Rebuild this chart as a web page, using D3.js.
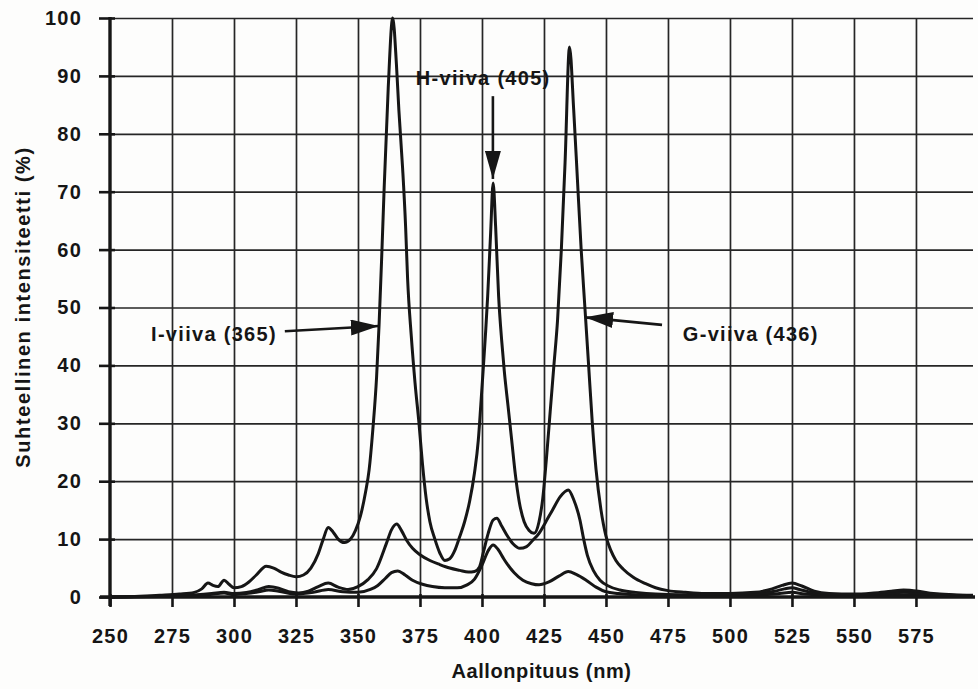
<!DOCTYPE html>
<html>
<head>
<meta charset="utf-8">
<script src="https://cdn.jsdelivr.net/npm/d3@7"></script>
<style>
  html, body { margin: 0; padding: 0; background: #fdfdfc; }
  svg { display: block; }
  text { font-family: "Liberation Sans", Arial, Helvetica, sans-serif; font-weight: bold; fill: #151515; }
</style>
</head>
<body>
<svg id="chart" width="978" height="689"></svg>
<script>
// Wavelength (nm) and relative intensity (%) tick values
const xTicks = [250, 275, 300, 325, 350, 375, 400, 425, 450, 475, 500, 525, 550, 575];
const yTicks = [0, 10, 20, 30, 40, 50, 60, 70, 80, 90, 100];

// Spectra: [wavelength nm, relative intensity %]
const seriesHigh = [
  [250,0],[260,0.1],[270,0.3],[278,0.5],[284,0.8],[287,1.4],[289.5,2.4],[291.5,2.0],[293.5,1.8],
  [296,2.9],[298,2.2],[300,1.6],[303,1.8],[306,2.6],[309,3.8],[313,5.3],[316,5.0],[319,4.3],
  [322,3.8],[325,3.5],[328,3.8],[331,5.0],[334,7.5],[336,10],[338,12.0],[340,11.2],[342,10.0],
  [344.5,9.4],[347,10.0],[349,11.5],[351,14],[353,18],[354.5,22],[356,29],[357.5,38],[358.5,47],
  [359.5,58],[360.5,70],[362.2,88],[364,100],[365.5,92],[366.5,84],[368,74],[369.2,64],[370,55],
  [371.5,45],[373,37],[374.6,30],[376,23],[377.5,17],[379,13],[381,10],[383,7.6],[385,6.3],
  [387,6.6],[389,8.0],[391,10.4],[393,13],[395,16.5],[397,21.5],[398.5,27],[399.5,33],[400.6,40],
  [401.5,46],[402.3,52],[403.5,63],[404.5,71.5],[405.5,64],[406.7,52],[408,44],[409,39],[410.5,33],
  [412,27],[413.5,21],[415,16.5],[417,13],[419,11.5],[421,11],[423,13],[424.5,17],[426,24],
  [427.5,32],[429,40],[430.5,48],[432,60],[433.5,75],[435.3,95],[437,84],[438.5,72],[440,60],
  [441.5,50],[443,40],[444.5,30],[446,22],[448,15],[450,10.5],[452,8],[454,6.3],[457,4.8],
  [461,3.4],[466,2.3],[470,1.6],[475,1.1],[482,0.8],[490,0.6],[500,0.6],[510,0.8],[517,1.4],
  [521,2.0],[525,2.4],[529,1.9],[534,1.0],[540,0.6],[550,0.5],[558,0.7],[565,1.0],[570,1.2],
  [576,1.0],[582,0.6],[590,0.4],[598,0.3]
];
const seriesMid = [
  [250,0],[265,0.1],[275,0.2],[285,0.4],[291,0.6],[296,0.8],[300,0.6],[305,0.8],[310,1.3],
  [314,1.8],[318,1.5],[322,0.9],[326,0.7],[330,1.0],[334,1.8],[338,2.4],[342,1.7],[346,1.3],
  [350,1.8],[354,3.0],[357.5,4.9],[361.5,9.3],[363.5,11.6],[365.6,12.6],[367.5,11.5],[369.6,9.8],
  [372,8.4],[375,7.3],[379,6.3],[383,5.6],[387,5.0],[391,4.6],[394.5,4.3],[397,4.4],[399,5.2],
  [400.5,7.6],[402.5,11],[404.5,13.3],[406,13.6],[408,12.2],[410,10.7],[412.5,9.2],[415.3,8.4],
  [418,8.7],[420.5,9.8],[423,11],[425.5,12.8],[428.4,15],[431.5,17.3],[434.8,18.5],[437,16.8],
  [439.5,13.3],[441,10],[442.5,7.2],[445,4.5],[447.6,2.9],[451,1.9],[455.6,1.2],[462,0.8],
  [470,0.5],[480,0.4],[500,0.4],[512,0.6],[518,1.0],[522,1.4],[525,1.6],[528,1.3],[533,0.8],
  [540,0.4],[555,0.4],[565,0.7],[570,0.8],[580,0.5],[590,0.3],[598,0.2]
];
const seriesLow = [
  [250,0],[270,0.1],[280,0.2],[290,0.4],[296,0.7],[300,0.4],[305,0.6],[310,0.9],[314,1.2],
  [318,1.0],[325,0.5],[332,0.8],[338,1.3],[344,0.9],[350,0.8],[355,1.3],[358,2.0],[361,3.2],
  [363.5,4.2],[366,4.5],[369,3.8],[372,2.9],[376,2.2],[380,1.8],[385,1.6],[390,1.6],[394,2.1],
  [397,3.1],[400,5.5],[402.5,8.0],[404.5,9.0],[406.5,8.2],[408.5,6.8],[410,5.8],[413,4.2],
  [416.5,2.9],[420,2.3],[423,2.1],[427,2.6],[431,3.6],[434.8,4.4],[438,3.9],[442,2.9],[446,1.7],
  [450,0.9],[455,0.6],[465,0.3],[480,0.2],[510,0.3],[520,0.6],[525,0.8],[530,0.5],[545,0.2],
  [570,0.4],[598,0.1]
];

const lineLabels = ["I-viiva (365)", "H-viiva (405)", "G-viiva (436)"];
const xTitle = "Aallonpituus (nm)";
const yTitle = "Suhteellinen intensiteetti (%)";

const svg = d3.select("#chart");
const plotLeft = 110, plotRight = 973, plotTop = 18, plotBottom = 597;
const x = d3.scaleLinear().domain([250, 598]).range([plotLeft, plotRight]);
const y = d3.scaleLinear().domain([0, 100]).range([plotBottom, plotTop]);
const ink = "#161616";

// Grid
svg.append("g")
  .attr("transform", `translate(0,${plotBottom})`)
  .call(d3.axisBottom(x).tickValues(xTicks.slice(1)).tickSize(-(plotBottom - plotTop)).tickFormat(""))
  .call(g => g.select(".domain").remove())
  .call(g => g.selectAll("line").attr("stroke", "#262626").attr("stroke-width", 1.7));
svg.append("g")
  .attr("transform", `translate(${plotLeft},0)`)
  .call(d3.axisLeft(y).tickValues(yTicks.slice(1)).tickSize(-(plotRight - plotLeft)).tickFormat(""))
  .call(g => g.select(".domain").remove())
  .call(g => g.selectAll("line").attr("stroke", "#262626").attr("stroke-width", 1.7));

// Spectral curves
const line = d3.line().x(d => x(d[0])).y(d => y(d[1])).curve(d3.curveMonotoneX);
[seriesLow, seriesMid, seriesHigh].forEach(s => {
  svg.append("path").datum(s)
    .attr("d", line)
    .attr("fill", "none")
    .attr("stroke", ink)
    .attr("stroke-width", 3)
    .attr("stroke-linejoin", "round");
});

// Axes
const yAxis = svg.append("g")
  .attr("transform", `translate(${plotLeft},0)`)
  .call(d3.axisLeft(y).tickValues(yTicks).tickSize(11).tickPadding(17).tickFormat(d3.format("d")));
const xAxis = svg.append("g")
  .attr("transform", `translate(0,${plotBottom})`)
  .call(d3.axisBottom(x).tickValues(xTicks).tickSize(10).tickPadding(22).tickFormat(d3.format("d")));
[yAxis, xAxis].forEach(g => {
  g.select(".domain").remove();
  g.selectAll("line").attr("stroke", ink).attr("stroke-width", 2.6);
  g.selectAll("text")
    .attr("fill", ink)
    .style("font-size", "20px")
    .style("letter-spacing", "1.2px")
    .style("font-family", '"Liberation Sans", Arial, sans-serif')
    .style("font-weight", "bold");
});
xAxis.selectAll("line").attr("y1", -3);
yAxis.selectAll("line").attr("x1", 5);

// Thick axis lines
svg.append("line").attr("x1", plotLeft).attr("x2", plotLeft).attr("y1", plotTop - 1).attr("y2", plotBottom + 9)
  .attr("stroke", ink).attr("stroke-width", 3.4);
svg.append("line").attr("x1", plotLeft - 10).attr("x2", plotRight + 2).attr("y1", plotBottom).attr("y2", plotBottom)
  .attr("stroke", ink).attr("stroke-width", 3.4);

// Axis titles
svg.append("text")
  .attr("x", (x(250) + x(598)) / 2).attr("y", 678)
  .attr("text-anchor", "middle")
  .style("font-size", "20px").style("letter-spacing", "0.6px")
  .text(xTitle);
svg.append("text")
  .attr("transform", `translate(30,307) rotate(-90)`)
  .attr("text-anchor", "middle")
  .style("font-size", "20px").style("letter-spacing", "1.6px")
  .text(yTitle);

// Arrowhead
svg.append("defs").append("marker")
  .attr("id", "head")
  .attr("viewBox", "0 0 28 16")
  .attr("refX", 28).attr("refY", 8)
  .attr("markerWidth", 28).attr("markerHeight", 16)
  .attr("markerUnits", "userSpaceOnUse")
  .attr("orient", "auto")
  .append("path").attr("d", "M0,0 L28,8 L0,16 Z").attr("fill", ink);

function arrow(from, to) {
  svg.append("line")
    .attr("x1", x(from[0])).attr("y1", y(from[1]))
    .attr("x2", x(to[0])).attr("y2", y(to[1]))
    .attr("stroke", ink).attr("stroke-width", 2.6)
    .attr("marker-end", "url(#head)");
}

// I-line (365 nm)
arrow([320.5, 45.9], [358.4, 46.8]);
svg.append("text").attr("x", x(317.3)).attr("y", y(44.2))
  .attr("text-anchor", "end").style("font-size", "20px").style("letter-spacing", "1.3px")
  .text(lineLabels[0]);

// H-line (405 nm)
arrow([404.4, 86.5], [404.4, 72.2]);
svg.append("text").attr("x", x(400.5)).attr("y", y(88.5))
  .attr("text-anchor", "middle").style("font-size", "20px").style("letter-spacing", "1.3px")
  .text(lineLabels[1]);

// G-line (436 nm)
arrow([472.6, 47.0], [441.6, 48.3]);
svg.append("text").attr("x", x(481)).attr("y", y(44.2))
  .attr("text-anchor", "start").style("font-size", "20px").style("letter-spacing", "1.3px")
  .text(lineLabels[2]);
</script>
</body>
</html>
